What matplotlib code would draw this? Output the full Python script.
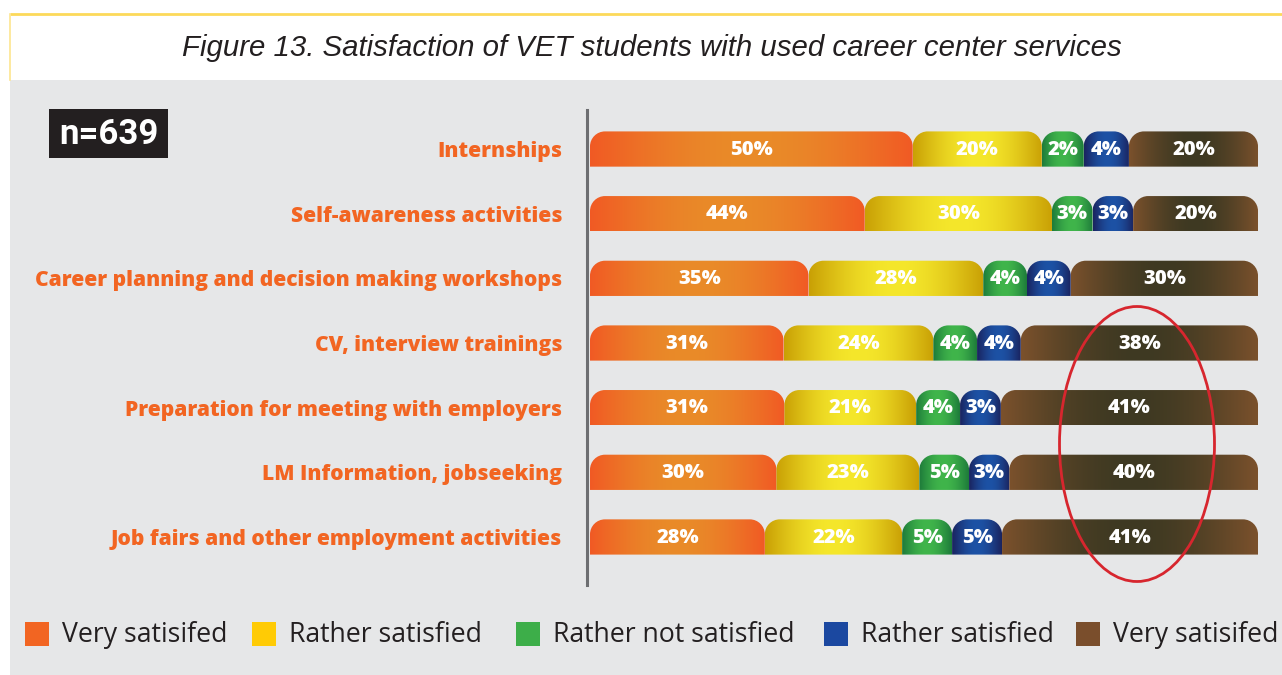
import numpy as np
import matplotlib.pyplot as plt
from matplotlib.path import Path
from matplotlib.patches import PathPatch, Rectangle, Ellipse
from matplotlib.colors import to_rgb

# data
categories = ["Internships",
              "Self-awareness activities",
              "Career planning and decision making workshops",
              "CV, interview trainings",
              "Preparation for meeting with employers",
              "LM Information, jobseeking",
              "Job fairs and other employment activities"]
very_satisfied = [50, 44, 35, 31, 31, 30, 28]
rather_satisfied = [20, 30, 28, 24, 21, 23, 22]
rather_not_satisfied = [2, 3, 4, 4, 4, 5, 5]
rather_satisfied_2 = [4, 3, 4, 4, 3, 3, 5]
very_satisfied_2 = [20, 20, 30, 38, 41, 40, 41]
legend_labels = ["Very satisifed", "Rather satisfied", "Rather not satisfied",
                 "Rather satisfied", "Very satisifed"]
title = "Figure 13. Satisfaction of VET students with used career center services"
n_label = "n=639"

series = [very_satisfied, rather_satisfied, rather_not_satisfied,
          rather_satisfied_2, very_satisfied_2]
legend_colors = ['#F26522', '#FFCB05', '#3DAE49', '#1B48A0', '#7A4E2C']
# (edge, middle) colours of the horizontal gradient in each segment
gradients = [('#F15A24', '#E98B29'), ('#C9A005', '#F5E72B'), ('#1D7A3A', '#40B54B'),
             ('#1A235E', '#1D52A5'), ('#7B512C', '#3E3922')]

W, H = 1282, 675
fig = plt.figure(figsize=(W / 100, H / 100), dpi=100)
fig.patch.set_facecolor('white')

# background / decoration axes in pixel units
bg = fig.add_axes([0, 0, 1, 1])
bg.set_xlim(0, W)
bg.set_ylim(H, 0)
bg.axis('off')
bg.add_patch(Rectangle((10, 80), W - 10, H - 80, color='#E6E7E8', lw=0))
bg.plot([10, W], [14, 14], color='#FCD95A', lw=2, solid_capstyle='butt')
bg.plot([10, 10], [14, 80], color='#FDE58F', lw=1.2)
bg.text(652, 48, title, ha='center', va='center', fontsize=21.2, style='italic',
        family='Liberation Sans', color='#231F20')
bg.add_patch(Rectangle((49, 109), 119, 49, color='#231F20', lw=0))
bg.text(108.5, 134, n_label, ha='center', va='center', fontsize=25, fontweight='bold',
        family='Roboto', color='white')
bg.plot([587, 587], [110, 585], color='#6D6E71', lw=2.2)

# legend
leg_x = [25, 252, 516, 824, 1076]
for x, c, lab in zip(leg_x, legend_colors, legend_labels):
    bg.add_patch(Rectangle((x, 622), 24, 24, color=c, lw=0))
    bg.text(x + 37, 635, lab, ha='left', va='center', fontsize=19.2,
            family='Open Sans', color='#231F20')

# bar axes
ax_left, ax_right = 590, 1258
ax_top, ax_bot = 116.7, 569.3
ax = fig.add_axes([ax_left / W, 1 - ax_bot / H, (ax_right - ax_left) / W, (ax_bot - ax_top) / H])
ax.patch.set_alpha(0)
for s in ax.spines.values():
    s.set_visible(False)

px_x = (ax_right - ax_left) / 100.0
px_y = (ax_bot - ax_top) / 7.0
bar_h = 0.545
radius = 15


def rounded_top(x0, x1, yc, h):
    rx = min(radius / px_x, (x1 - x0) / 2)
    ry = min(radius / px_y, h)
    yt, yb = yc - h / 2, yc + h / 2
    k = 0.5523
    verts = [(x0, yb), (x0, yt + ry),
             (x0, yt + ry - k * ry), (x0 + rx - k * rx, yt), (x0 + rx, yt),
             (x1 - rx, yt),
             (x1 - rx + k * rx, yt), (x1, yt + ry - k * ry), (x1, yt + ry),
             (x1, yb), (x0, yb)]
    codes = [Path.MOVETO, Path.LINETO,
             Path.CURVE4, Path.CURVE4, Path.CURVE4,
             Path.LINETO,
             Path.CURVE4, Path.CURVE4, Path.CURVE4,
             Path.LINETO, Path.CLOSEPOLY]
    return Path(verts, codes)


t = np.linspace(0, 1, 200)
f = np.sin(np.pi * t)[:, None]

for i in range(len(categories)):
    vals = [s[i] for s in series]
    # small shares get a little extra room so their labels fit
    disp = np.array([max(v + 3, 6.5) if v < 10 else v for v in vals], dtype=float)
    disp = disp / disp.sum() * 100
    left = 0
    for j, (v, w) in enumerate(zip(vals, disp)):
        edge, mid = np.array(to_rgb(gradients[j][0])), np.array(to_rgb(gradients[j][1]))
        img = (edge + (mid - edge) * f)[None, :, :]
        patch = PathPatch(rounded_top(left, left + w, i, bar_h), fc='none', ec='none')
        ax.add_patch(patch)
        im = ax.imshow(img, extent=(left, left + w, i + bar_h / 2, i - bar_h / 2),
                       aspect='auto', interpolation='bilinear', zorder=2)
        im.set_clip_path(patch)
        ax.text(left + w / 2, i + 0.01, f"{v}%", ha='center', va='center', color='white',
                fontsize=14.5, fontweight='heavy', family='Open Sans', zorder=3)
        left += w

ax.set_xlim(0, 100)
ax.set_ylim(6.5, -0.5)
ax.set_xticks([])
ax.set_yticks(range(len(categories)), categories)
ax.tick_params(axis='y', length=0, pad=20, labelcolor='#F26522', labelsize=15.1)
for lbl in ax.get_yticklabels():
    lbl.set_fontweight('heavy')
    lbl.set_family('Open Sans')

# highlight around the last column
ax.add_patch(Ellipse((1137, 444), 155, 275, transform=bg.transData, fc='none',
                     ec='#D7262E', lw=2, clip_on=False, zorder=4))

fig.savefig('out.png', dpi=100, facecolor='white')
